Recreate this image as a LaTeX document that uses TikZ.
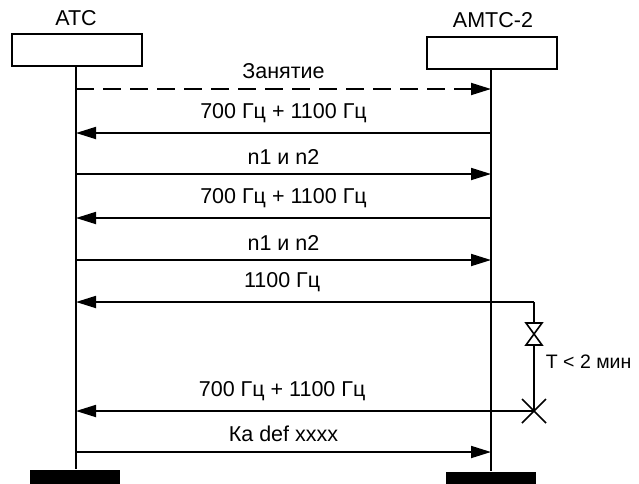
\documentclass[tikz,border=0pt]{standalone}
\usepackage{fontspec}
\setmainfont{Liberation Sans}
\usetikzlibrary{arrows.meta}
\begin{document}
\begin{tikzpicture}[x=1pt,y=-1pt,
  line width=1.8pt,
  msg/.style={-{Triangle[length=20pt,width=12pt]}},
  lbl/.style={font=\fontsize{21.5}{25}\selectfont, inner sep=0pt},
  entbox/.style={draw, line width=1.8pt, minimum width=130pt, minimum height=32pt, inner sep=0pt},
  endbar/.style={fill=black, minimum width=90pt, minimum height=14pt, inner sep=0pt}]
\useasboundingbox (0,0) rectangle (639,483);

% entities
\node[entbox] (lb) at (77,50) {};
\node[entbox] (rb) at (492,53) {};
\node[lbl] (lt) at (76,18) {АТС};
\node[lbl] (rt) at (493,20) {АМТС-2};
\node[endbar] (lbar) at (75,477) {};
\node[endbar] (rbar) at (491,479) {};

% lifelines
\coordinate (lx) at (76,0);
\coordinate (rx) at (491,0);
\draw (lb.south -| lx) -- (lbar.north -| lx);
\draw (rb.south -| rx) -- (rbar.north -| rx);

% message endpoints
\foreach \i/\y in {1/89,2/133,3/174,4/218,5/260,6/302,7/411,8/452}{
  \coordinate (L\i) at (76,\y);
  \coordinate (R\i) at (491,\y);
}

% messages
\draw[msg, dash pattern=on 18pt off 9pt] (L1) -- (R1)
  node[lbl, midway, above=9pt] (m1) {Занятие};
\draw[msg] (R2) -- (L2) node[lbl, midway, above=9pt] (m2) {700 Гц + 1100 Гц};
\draw[msg] (L3) -- (R3) node[lbl, midway, above=9pt] (m3) {n1 и n2};
\draw[msg] (R4) -- (L4) node[lbl, midway, above=9pt] (m4) {700 Гц + 1100 Гц};
\draw[msg] (L5) -- (R5) node[lbl, midway, above=9pt] (m5) {n1 и n2};

% timer loop
\coordinate (T1) at (534,302);
\coordinate (bt) at (534,323);
\coordinate (bb) at (534,345);
\coordinate (X) at (534,411);
\draw[msg] (T1) -- (L6) node[lbl, pos=0.55, above=9pt] (m6) {1100 Гц};
\draw (T1) -- (bt);
\draw[line width=1.6pt] ([xshift=-8pt]bt) -- ([xshift=8pt]bt) -- ([xshift=-8pt]bb) -- ([xshift=8pt]bb) -- cycle;
\draw (bb) -- (X);
\draw[line width=1.6pt] (X) +(-12,-12) -- +(12,12) (X) +(-12,12) -- +(12,-12);
\node[lbl, font=\fontsize{19.5}{23}\selectfont, anchor=west] (tm) at (545,362) {T < 2 мин};
\draw[msg] (X) -- (L7) node[lbl, pos=0.55, above=9pt] (m7) {700 Гц + 1100 Гц};

\draw[msg] (L8) -- (R8) node[lbl, midway, above=9pt] (m8) {Ка def xxxx};
\end{tikzpicture}
\end{document}
